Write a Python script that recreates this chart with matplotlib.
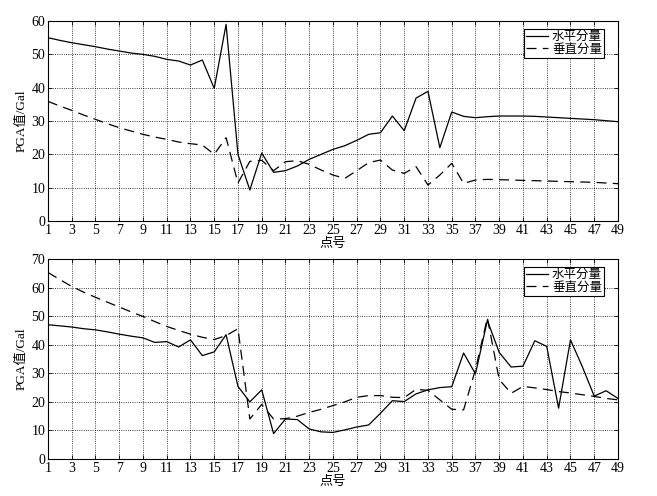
import numpy as np
import matplotlib
matplotlib.use("Agg")
import matplotlib.pyplot as plt

plt.rcParams['font.family'] = ['Liberation Serif', 'Noto Sans CJK SC']
plt.rcParams['font.size'] = 9

# 点号 1..49
points = np.arange(1, 50)
xticks = np.arange(1, 50, 2)

# 上图
h_top = [55, 54.2, 53.5, 52.9, 52.3, 51.6, 51, 50.4, 50, 49.4,
         48.5, 48, 46.8, 48.3, 39.8, 59, 20, 9.3, 20.4, 14.6,
         15.1, 16.5, 18.5, 20, 21.5, 22.6, 24.2, 26, 26.5, 31.5,
         27.1, 36.9, 38.9, 22, 32.7, 31.4, 31, 31.3, 31.5, 31.5,
         31.5, 31.4, 31.2, 31, 30.8, 30.6, 30.4, 30.1, 29.8]
v_top = [35.9, 34.5, 33.2, 31.8, 30.5, 29.2, 28, 27, 26, 25.2,
         24.5, 23.7, 23.2, 22.8, 20, 25, 11.4, 17.9, 18.2, 15.1,
         17.8, 18.1, 17, 15.3, 13.8, 12.8, 15.1, 17.5, 18.3, 15.3,
         14.3, 16.3, 10.8, 13.8, 17.3, 11.3, 12.3, 12.5, 12.4, 12.3,
         12.2, 12.1, 12, 11.9, 11.8, 11.7, 11.6, 11.4, 11.2]

# 下图
h_bot = [47, 46.6, 46.2, 45.6, 45.2, 44.5, 43.7, 43, 42.4, 40.8,
         41.1, 39.2, 41.7, 36.2, 37.5, 43.5, 25.4, 20, 24.2, 8.9,
         14, 13.8, 10.5, 9.5, 9.3, 10.2, 11.2, 11.9, 16, 20.4,
         20.1, 22.8, 24.2, 25, 25.3, 37.1, 29.8, 48.5, 37.3, 32.2,
         32.5, 41.4, 39.4, 17.8, 41.7, 32.3, 22, 23.9, 21.2]
v_bot = [65.3, 62.8, 60.4, 58.4, 56.6, 54.9, 53.2, 51.5, 49.9, 48.1,
         46.4, 45, 43.7, 42.6, 41.8, 43.2, 45.6, 14, 19.1, 14,
         14.1, 15, 16.3, 17.4, 18.7, 20, 21.6, 22.2, 22.2, 21.6,
         21.5, 24.4, 24, 20.7, 17.4, 17.2, 31.3, 49.4, 27.8, 23,
         25.4, 24.9, 24.3, 23.6, 23.1, 22.5, 21.9, 21.2, 20.7]

labels = ['水平分量', '垂直分量']

fig = plt.figure(figsize=(6.57, 4.96), dpi=100)
ax1 = fig.add_axes([0.073, 0.5544, 0.8676, 0.4032])
ax2 = fig.add_axes([0.073, 0.0746, 0.8676, 0.4032])

for ax, h, v, ymax in [(ax1, h_top, v_top, 60), (ax2, h_bot, v_bot, 70)]:
    ax.plot(points, h, color='black', lw=0.9, label=labels[0])
    ax.plot(points, v, color='black', lw=0.9, dashes=(8, 5), label=labels[1])
    ax.set_xlim(1, 49)
    ax.set_ylim(0, ymax)
    ax.set_xticks(xticks)
    ax.set_yticks(np.arange(0, ymax + 1, 10))
    ax.grid(True, color='black', linestyle=':', linewidth=0.6)
    ax.tick_params(direction='in', length=3, width=0.6, labelsize=10,
                   top=True, right=True, pad=2)
    for s in ax.spines.values():
        s.set_linewidth(0.8)
    ax.set_xlabel('点号', fontsize=9.5, labelpad=1)
    ax.set_ylabel('PGA值/Gal', fontsize=9.5, labelpad=3)
    leg = ax.legend(loc='upper right', bbox_to_anchor=(0.975, 0.96),
                    fancybox=False, framealpha=1, edgecolor='black',
                    fontsize=9, borderpad=0.15, labelspacing=0.05,
                    handlelength=1.8, handletextpad=0.3, borderaxespad=0)
    leg.get_frame().set_linewidth(0.8)

fig.savefig('out.png', dpi=100)
